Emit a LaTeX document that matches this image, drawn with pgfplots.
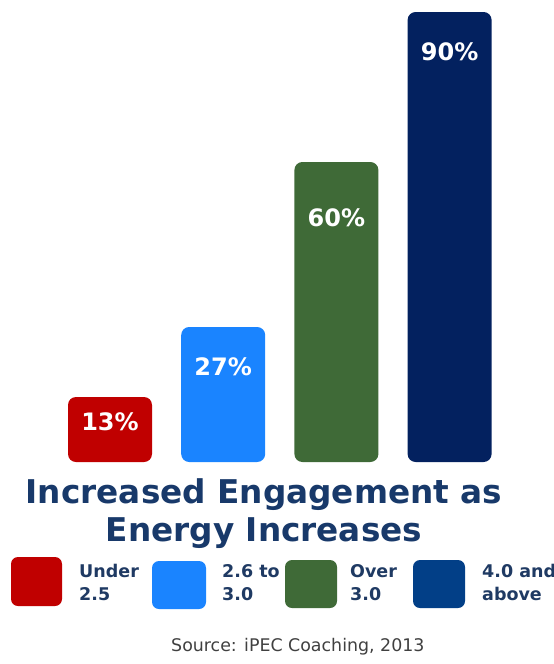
\documentclass[border=0pt]{standalone}
\usepackage{pgfplots}
\pgfplotsset{compat=1.18}
\usepackage{fontspec}
\setmainfont{DejaVu Sans}
\definecolor{cRed}{HTML}{C00000}
\definecolor{cBlue}{HTML}{1A84FF}
\definecolor{cGreen}{HTML}{3F6A37}
\definecolor{cNavy}{HTML}{03215F}
\definecolor{cNavyL}{HTML}{023F87}
\definecolor{cTitle}{HTML}{18396A}
\definecolor{cLeg}{HTML}{1F3A63}
\definecolor{cSrc}{HTML}{404040}
\begin{document}
\begin{tikzpicture}
\path[use as bounding box] (0pt,0pt) rectangle (554pt,-664pt);
\clip (0pt,0pt) rectangle (554pt,-664pt);
\begin{axis}[
  at={(53.4pt,-462pt)}, anchor=south west,
  scale only axis, width=452.8pt, height=450pt,
  xmin=-0.5, xmax=3.5, ymin=0, ymax=90,
  hide axis, clip=false,
  /pgf/number format/assume math mode=true,
  ybar, bar width=84pt, bar shift=0pt,
  nodes near coords={\pgfmathprintnumber{\pgfplotspointmeta}\%},
  every node near coord/.append style={anchor=center, text=white,
     font=\fontsize{24}{28}\selectfont\bfseries},
]
\addplot[fill=cRed, draw=none, rounded corners=8pt,
  every node near coord/.append style={yshift=-25pt}] coordinates {(0,13)};
\addplot[fill=cBlue, draw=none, rounded corners=8pt,
  every node near coord/.append style={yshift=-40pt}] coordinates {(1,27)};
\addplot[fill=cGreen, draw=none, rounded corners=8pt,
  every node near coord/.append style={yshift=-56pt}] coordinates {(2,60)};
\addplot[fill=cNavy, draw=none, rounded corners=8pt,
  every node near coord/.append style={yshift=-40pt}] coordinates {(3,90)};
\end{axis}
% title
\node[anchor=base, text=cTitle, font=\fontsize{32.7}{38}\selectfont\bfseries, inner sep=0pt]
  at (264pt,-503pt) {Increased Engagement as};
\node[anchor=base, text=cTitle, font=\fontsize{32.7}{38}\selectfont\bfseries, inner sep=0pt]
  at (264pt,-541pt) {Energy Increases};
% legend
\fill[cRed, rounded corners=7pt] (11pt,-557pt) rectangle (62pt,-606pt);
\fill[cBlue, rounded corners=7pt] (152pt,-561pt) rectangle (206pt,-609pt);
\fill[cGreen, rounded corners=7pt] (285pt,-560pt) rectangle (337pt,-608pt);
\fill[cNavyL, rounded corners=7pt] (413pt,-560pt) rectangle (465pt,-608pt);
\begin{scope}[every node/.style={anchor=base west, inner sep=0pt, text=cLeg,
   font=\fontsize{17.5}{20}\selectfont\bfseries}]
\node at (79pt,-577pt) {Under};
\node at (79pt,-600pt) {2.5};
\node at (222pt,-577pt) {2.6 to};
\node at (222pt,-600pt) {3.0};
\node at (350pt,-577pt) {Over};
\node at (350pt,-600pt) {3.0};
\node at (482pt,-577pt) {4.0 and};
\node at (482pt,-600pt) {above};
\end{scope}
% source
\node[anchor=base west, inner sep=0pt, text=cSrc, font=\fontsize{17.4}{20}\selectfont]
  at (171pt,-651pt) {Source: iPEC Coaching, 2013};
\end{tikzpicture}
\end{document}
